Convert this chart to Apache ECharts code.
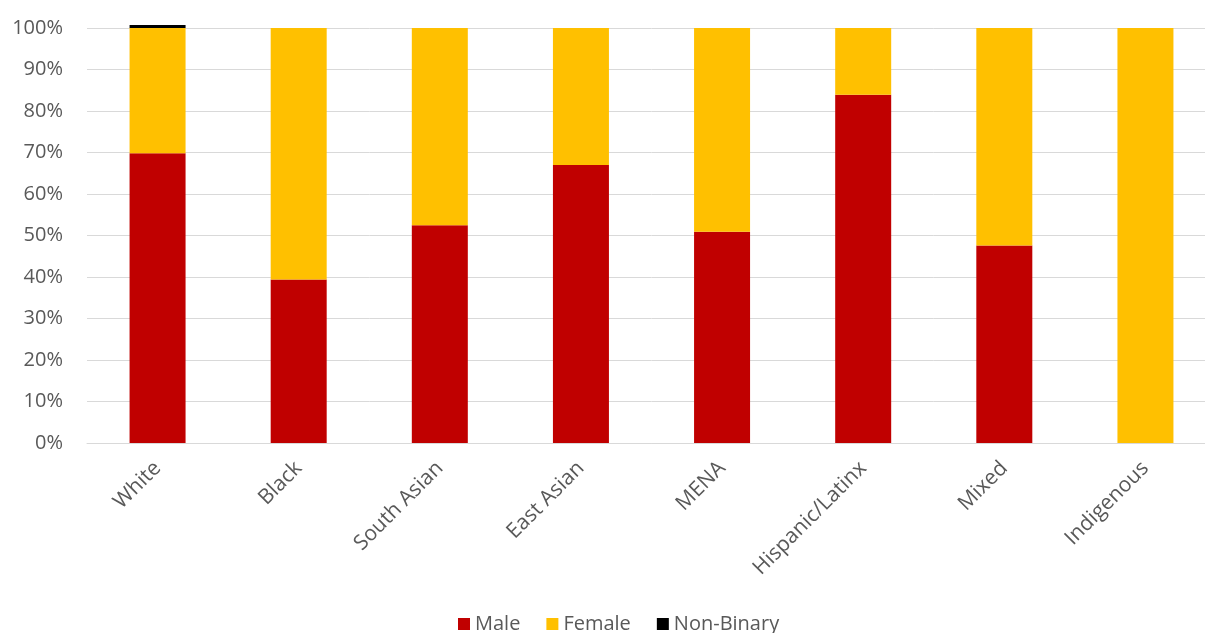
<!DOCTYPE html>
<html>
<head>
<meta charset="utf-8">
<script src="https://cdn.jsdelivr.net/npm/echarts@6/dist/echarts.min.js"></script>
<style>
html,body{margin:0;padding:0;background:#fff;overflow:hidden;width:1205px;height:633px;}
#c{width:1216px;height:633px;}
</style>
</head>
<body>
<div id="c"></div>
<script>
const categories = ['White','Black','South Asian','East Asian','MENA','Hispanic/Latinx','Mixed','Indigenous'];
const male = [69.8, 39.4, 52.5, 67.0, 50.9, 83.9, 47.6, 0];
const female = [30.2, 60.6, 47.5, 33.0, 49.1, 16.1, 52.4, 100];
const nonBinary = [0.7, 0, 0, 0, 0, 0, 0, 0];
const yTicks = [0,10,20,30,40,50,60,70,80,90,100];

const chart = echarts.init(document.getElementById('c'));
const font = 'Open Sans';
const labelColor = '#595959';
function mk(name, data, color){
  return {name:name, type:'bar', stack:'total', data:data, barWidth:56, clip:false,
    itemStyle:{color:color}, emphasis:{disabled:true}};
}
chart.setOption({
  animation:false,
  backgroundColor:'#fff',
  grid:{left:87, width:1129, top:28, height:415, containLabel:false},
  legend:{
    top:609, left:453, itemWidth:12, itemHeight:12, itemGap:26,
    icon:'rect',
    textStyle:{fontFamily:font, fontSize:20, color:labelColor},
    data:['Male','Female','Non-Binary']
  },
  xAxis:{
    type:'category', data:categories,
    axisLine:{show:true, lineStyle:{color:'#D9D9D9', width:1}},
    axisTick:{show:false},
    axisLabel:{rotate:45, margin:22, fontFamily:font, fontSize:21, color:labelColor, interval:0}
  },
  yAxis:{
    type:'value', min:yTicks[0], max:yTicks[yTicks.length-1], interval:10,
    axisLine:{show:false}, axisTick:{show:false},
    splitLine:{lineStyle:{color:'#D9D9D9', width:1}},
    axisLabel:{formatter:'{value}%', margin:24, fontFamily:font, fontSize:20, color:labelColor}
  },
  series:[
    mk('Male', male, '#C00000'),
    mk('Female', female, '#FFC000'),
    mk('Non-Binary', nonBinary, '#000000')
  ]
});
</script>
</body>
</html>
